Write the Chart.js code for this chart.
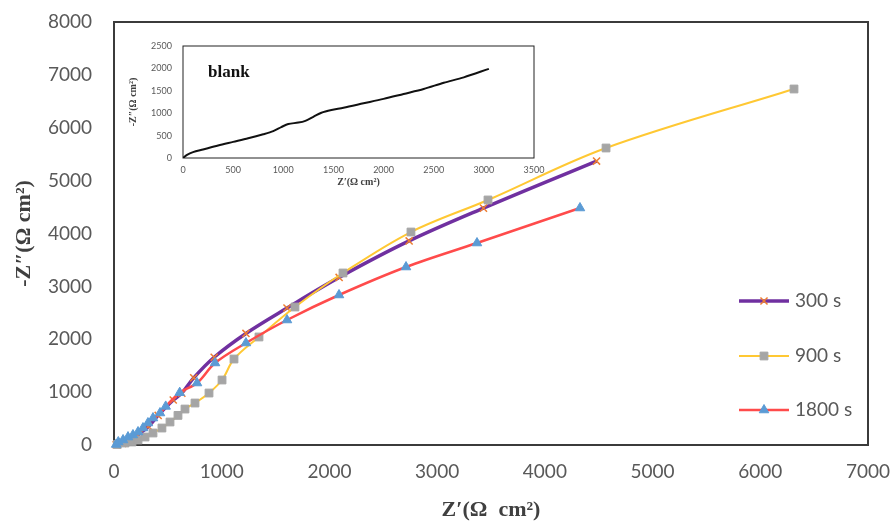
<!DOCTYPE html>
<html lang="en">
<head>
<meta charset="UTF-8" />
<title>Nyquist plots</title>
<script src="https://cdn.jsdelivr.net/npm/chart.js"></script>
<style>
  body { margin: 0; background: #fff; }
  #wrap { position: relative; width: 895px; height: 528px; }
  #inset { position: absolute; left: 110px; top: 30px; }
</style>
</head>
<body>
<div id="wrap">
  <canvas id="mainChart" width="895" height="528"></canvas>
  <canvas id="inset" width="440" height="165"></canvas>
</div>
<script>
// 300 s
const re300 = [20, 80, 150, 240, 320, 410, 550, 630, 740, 930, 1225, 1606, 2090, 2740, 3430, 4480];
const im300 = [5, 30, 80, 220, 350, 560, 850, 980, 1270, 1660, 2110, 2590, 3170, 3860, 4480, 5370];
// 900 s
const re900 = [30, 102, 167, 223, 288, 362, 445, 520, 594, 659, 752, 882, 1003, 1114, 1346, 1680, 2126, 2757, 3472, 4568, 6313];
const im900 = [10, 38, 57, 95, 151, 227, 321, 435, 560, 680, 794, 983, 1229, 1626, 2043, 2610, 3253, 4028, 4634, 5617, 6733];
// 1800 s
const re1800 = [20, 40, 84, 130, 176, 223, 269, 315, 362, 427, 480, 610, 771, 938, 1225, 1606, 2089, 2711, 3370, 4326];
const im1800 = [10, 57, 95, 150, 190, 246, 321, 416, 510, 605, 730, 990, 1172, 1551, 1929, 2364, 2837, 3366, 3820, 4482];
// blank (inset)
const reBlank = [0, 40, 100, 200, 350, 500, 650, 800, 900, 980, 1050, 1150, 1220, 1300, 1380, 1480, 1600, 1800, 2000, 2200, 2400, 2600, 2800, 3050];
const imBlank = [0, 70, 130, 190, 280, 360, 440, 530, 600, 690, 760, 790, 830, 920, 1010, 1070, 1120, 1220, 1320, 1430, 1540, 1680, 1800, 1990];

const mainXTicks = [0, 7000, 1000];
const mainYTicks = [0, 8000, 1000];
const insetXTicks = [0, 3500, 500];
const insetYTicks = [0, 2500, 500];

const toPoints = (xs, ys) => xs.map((x, i) => ({x: x, y: ys[i]}));
const plain = v => String(v);

// fixed axis sizes, label overhang handled by layout padding
const fixX = h => scale => { scale.height = h; scale.paddingLeft = 0; scale.paddingRight = 0; };
const fixY = w => scale => { scale.width = w; scale.paddingTop = 0; scale.paddingBottom = 0; };

function makeFrame(color, width) {
  return {
    id: 'frame',
    beforeDatasetsDraw(chart) {
      const {ctx, chartArea: {left, top, right, bottom}} = chart;
      ctx.save();
      ctx.strokeStyle = color;
      ctx.lineWidth = width;
      ctx.strokeRect(left, top, right - left, bottom - top);
      ctx.restore();
    }
  };
}

// legend drawn inside the plot area, like the original
const inlineLegend = {
  id: 'inlineLegend',
  afterDraw(chart) {
    const ctx = chart.ctx;
    const x0 = 739, len = 50, rows = [301, 356, 410];
    chart.data.datasets.forEach((ds, i) => {
      const y = rows[i];
      ctx.save();
      ctx.strokeStyle = ds.borderColor;
      ctx.lineWidth = ds.borderWidth;
      ctx.beginPath();
      ctx.moveTo(x0, y);
      ctx.lineTo(x0 + len, y);
      ctx.stroke();
      ctx.fillStyle = ds.pointBackgroundColor;
      ctx.strokeStyle = ds.pointBorderColor;
      ctx.lineWidth = ds.pointBorderWidth;
      Chart.helpers.drawPoint(ctx, {
        pointStyle: ds.pointStyle, radius: ds.pointRadius, rotation: 0, borderWidth: ds.pointBorderWidth
      }, x0 + len / 2, y);
      ctx.fillStyle = '#595959';
      ctx.font = '19px Lato';
      ctx.textBaseline = 'middle';
      ctx.fillText(ds.label, x0 + len + 6, y);
      ctx.restore();
    });
  }
};

const tickFont = {family: 'Lato', size: 19};

new Chart(document.getElementById('mainChart'), {
  type: 'scatter',
  data: {
    datasets: [{
      label: '300 s',
      data: toPoints(re300, im300),
      showLine: true,
      borderColor: '#7030A0',
      borderWidth: 3.5,
      tension: 0.35,
      pointStyle: 'crossRot',
      pointRadius: 5,
      pointBorderColor: '#ED7D31',
      pointBackgroundColor: '#ED7D31',
      pointBorderWidth: 1.5,
      order: 3,
      clip: false
    }, {
      label: '900 s',
      data: toPoints(re900, im900),
      showLine: true,
      borderColor: '#FFC833',
      borderWidth: 2,
      tension: 0.35,
      pointStyle: 'rect',
      pointRadius: 5.5,
      pointBorderColor: '#A5A5A5',
      pointBackgroundColor: '#A5A5A5',
      pointBorderWidth: 1,
      order: 2,
      clip: false
    }, {
      label: '1800 s',
      data: toPoints(re1800, im1800),
      showLine: true,
      borderColor: '#FF4B4B',
      borderWidth: 2.5,
      tension: 0.35,
      pointStyle: 'triangle',
      pointRadius: 5.5,
      pointBorderColor: '#5B9BD5',
      pointBackgroundColor: '#5B9BD5',
      pointBorderWidth: 1,
      order: 1,
      clip: false
    }]
  },
  options: {
    responsive: false,
    animation: false,
    devicePixelRatio: 1,
    layout: {padding: {top: 22, right: 27, left: 0, bottom: 0}},
    plugins: {legend: {display: false}, tooltip: {enabled: false}},
    scales: {
      x: {
        type: 'linear',
        min: mainXTicks[0], max: mainXTicks[1],
        ticks: {stepSize: mainXTicks[2], padding: 15, color: '#595959', font: tickFont, callback: plain},
        grid: {display: false, drawTicks: false},
        border: {display: false},
        title: {
          display: true, text: 'Z′(Ω  cm²)', color: '#404040',
          font: {family: 'Liberation Serif', size: 22, weight: 'bold'},
          padding: {top: 0, bottom: 4}
        },
        afterFit: fixX(83)
      },
      y: {
        type: 'linear',
        min: mainYTicks[0], max: mainYTicks[1],
        ticks: {stepSize: mainYTicks[2], padding: 22, color: '#595959', font: tickFont, callback: plain},
        grid: {display: false, drawTicks: false},
        border: {display: false},
        title: {
          display: true, text: '-Z″(Ω cm²)', color: '#404040',
          font: {family: 'Liberation Serif', size: 22, weight: 'bold'},
          padding: {top: 11, bottom: 0}
        },
        afterFit: fixY(114)
      }
    }
  },
  plugins: [makeFrame('#3b3b3b', 2), inlineLegend]
});

const blankLabel = {
  id: 'blankLabel',
  afterDraw(chart) {
    const ctx = chart.ctx;
    ctx.save();
    ctx.fillStyle = '#111';
    ctx.font = 'bold 17px "Liberation Serif"';
    ctx.textBaseline = 'alphabetic';
    ctx.fillText('blank', 98, 47);
    ctx.restore();
  }
};

const insetFont = {family: 'Lato', size: 9};

new Chart(document.getElementById('inset'), {
  type: 'scatter',
  data: {
    datasets: [{
      label: 'blank',
      data: toPoints(reBlank, imBlank),
      showLine: true,
      borderColor: '#111',
      borderWidth: 2,
      tension: 0.3,
      pointRadius: 0
    }]
  },
  options: {
    responsive: false,
    animation: false,
    devicePixelRatio: 1,
    layout: {padding: {top: 16, right: 16, left: 0, bottom: 0}},
    plugins: {legend: {display: false}, tooltip: {enabled: false}},
    scales: {
      x: {
        type: 'linear',
        min: insetXTicks[0], max: insetXTicks[1],
        ticks: {stepSize: insetXTicks[2], padding: 7, color: '#595959', font: insetFont, callback: plain},
        grid: {display: false, drawTicks: false},
        border: {display: false},
        title: {
          display: true, text: 'Z′(Ω cm²)', color: '#404040',
          font: {family: 'Liberation Serif', size: 10, weight: 'bold'},
          padding: {top: 0, bottom: 7}
        },
        afterFit: fixX(37)
      },
      y: {
        type: 'linear',
        min: insetYTicks[0], max: insetYTicks[1],
        ticks: {stepSize: insetYTicks[2], padding: 11, color: '#595959', font: insetFont, callback: plain},
        grid: {display: false, drawTicks: false},
        border: {display: false},
        title: {
          display: true, text: '-Z″(Ω cm²)', color: '#404040',
          font: {family: 'Liberation Serif', size: 10, weight: 'bold'},
          padding: {top: 17, bottom: 0}
        },
        afterFit: fixY(73)
      }
    }
  },
  plugins: [makeFrame('#222', 1), blankLabel]
});
</script>
</body>
</html>
